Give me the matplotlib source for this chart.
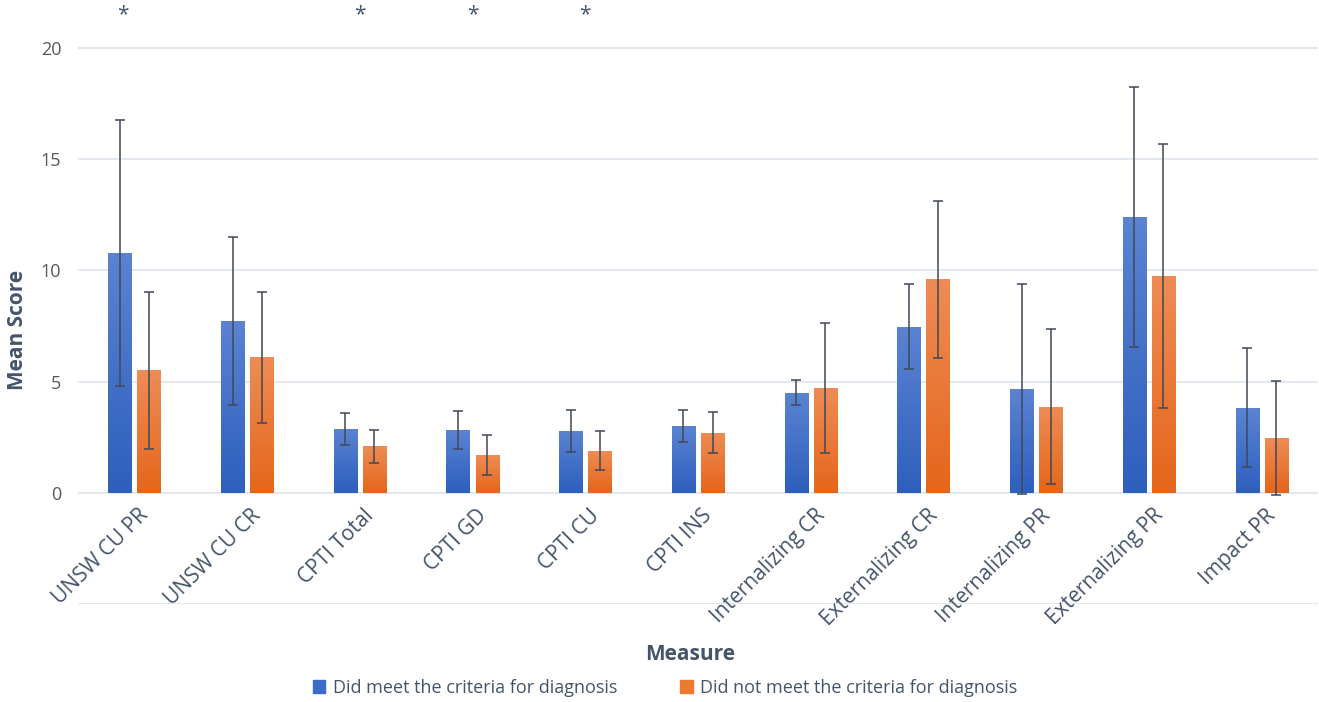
import numpy as np
import matplotlib
matplotlib.use("Agg")
import matplotlib.pyplot as plt
from matplotlib.colors import LinearSegmentedColormap
from matplotlib.patches import Patch

plt.rcParams['font.family'] = ['Open Sans', 'DejaVu Sans']

categories = ["UNSW CU PR", "UNSW CU CR", "CPTI Total", "CPTI GD", "CPTI CU",
              "CPTI INS", "Internalizing CR", "Externalizing CR", "Internalizing PR",
              "Externalizing PR", "Impact PR"]
met_mean = [10.8, 7.73, 2.88, 2.83, 2.79, 3.0, 4.5, 7.46, 4.67, 12.4, 3.82]
met_sd = [5.98, 3.78, 0.72, 0.86, 0.95, 0.72, 0.57, 1.91, 4.72, 5.85, 2.67]
not_mean = [5.5, 6.1, 2.1, 1.7, 1.9, 2.7, 4.72, 9.6, 3.87, 9.75, 2.47]
not_sd = [3.55, 2.95, 0.74, 0.9, 0.87, 0.92, 2.92, 3.53, 3.48, 5.93, 2.55]
significant = [True, False, True, True, True, False, False, False, False, False, False]
series_labels = ["Did meet the criteria for diagnosis", "Did not meet the criteria for diagnosis"]
yticks = [0, 5, 10, 15, 20]

text_col = "#44546a"
tick_col = "#595959"
grid_col = "#dfe3ea"
err_col = "#404856"

fig = plt.figure(figsize=(13.19, 7.02), dpi=100)
ax = fig.add_axes([78/1319, 98/702, 1240/1319, (604-3.5)/702])
ax.set_xlim(-0.5, len(categories) - 0.5)
ax.set_ylim(-5, 22)

x = np.arange(len(categories))
w = 0.205
off = 0.129

for yv in yticks + [-5]:
    ax.axhline(yv, color=grid_col, lw=1.2, zorder=0)

blue_cmap = LinearSegmentedColormap.from_list("b", ["#2d5fbd", "#5b83d2"])
orange_cmap = LinearSegmentedColormap.from_list("o", ["#e4661a", "#ee8c55"])
grad = np.linspace(0, 1, 256).reshape(-1, 1)

b1 = ax.bar(x - off, met_mean, w, color="#3a6cc8", zorder=2)
b2 = ax.bar(x + off, not_mean, w, color="#ec7a30", zorder=2)
for bars, cmap in ((b1, blue_cmap), (b2, orange_cmap)):
    for p in bars:
        x0, y0, bw, bh = p.get_x(), p.get_y(), p.get_width(), p.get_height()
        im = ax.imshow(grad, cmap=cmap, origin="lower", aspect="auto",
                       extent=(x0, x0 + bw, y0, y0 + bh), zorder=2.1)
        im.set_clip_path(p)

ax.errorbar(x - off, met_mean, yerr=met_sd, fmt="none", ecolor=err_col,
            elinewidth=1.1, capsize=3.5, capthick=1.1, zorder=3)
ax.errorbar(x + off, not_mean, yerr=not_sd, fmt="none", ecolor=err_col,
            elinewidth=1.1, capsize=3.5, capthick=1.1, zorder=3)

for i, (xi, s) in enumerate(zip(x, significant)):
    if s:
        dx = -0.1 if i == 0 else 0.0
        ax.text(xi + dx, 21.5, "*", ha="center", va="center", fontsize=15, color=text_col)

ax.set_yticks(yticks)
ax.set_yticklabels([str(v) for v in yticks], fontsize=13, color=tick_col)
ax.tick_params(axis="y", length=0, pad=12)
ax.set_xticks([])
for s in ax.spines.values():
    s.set_visible(False)

for xi, lab in zip(x, categories):
    ax.text(xi + 0.03, -0.55, lab, rotation=45, rotation_mode="anchor",
            ha="right", va="top", fontsize=15, color=text_col)

fig.text(18/1319, 1 - 330/702, "Mean Score", rotation=90, ha="center", va="center",
         fontsize=15, fontweight="bold", color=text_col)
fig.text(690/1319, 1 - 655/702, "Measure", ha="center", va="center",
         fontsize=15, fontweight="bold", color=text_col)

handles = [Patch(color="#3a6cc8"), Patch(color="#ec7a30")]
fig.legend(handles, series_labels, loc="center", bbox_to_anchor=(665/1319, 1 - 688/702),
           ncol=2, frameon=False, fontsize=13, handlelength=0.7, handleheight=0.7,
           handletextpad=0.4, columnspacing=3.5, labelcolor=text_col)

fig.savefig("out.png", dpi=100)
